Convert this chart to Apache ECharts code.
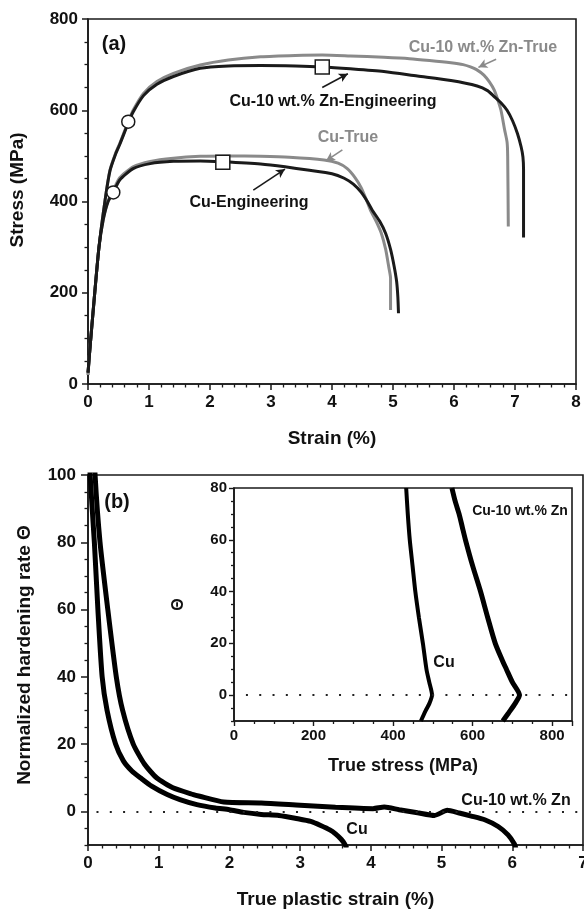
<!DOCTYPE html>
<html>
<head>
<meta charset="utf-8">
<script src="https://cdn.jsdelivr.net/npm/echarts@6/dist/echarts.min.js"></script>
<style>
html,body{margin:0;padding:0;background:#fff;}
#chart{width:584px;height:911px;}
</style>
</head>
<body>
<div id="chart"></div>
<script>
// ---------- Panel (a): stress-strain curves (strain %, stress MPa) ----------
const znTrue = [[0,20],[0.03,75],[0.1,184],[0.18,300],[0.28,403],[0.36,469],[0.45,505],[0.52,527],[0.66,575],[0.74,600],[0.91,637],[1.13,663],[1.4,681],[1.84,699],[2.3,710],[2.83,717],[3.4,720],[3.84,721],[4.3,719],[4.85,716],[5.27,713],[5.6,709],[5.95,704],[6.15,700],[6.27,695],[6.37,689],[6.49,677],[6.58,662],[6.66,644],[6.72,622],[6.77,600],[6.83,557],[6.87,530],[6.88,500],[6.89,345]];
const znEng = [[0,25],[0.03,75],[0.1,184],[0.18,300],[0.28,403],[0.36,467],[0.45,503],[0.52,525],[0.66,572],[0.74,596],[0.91,632],[1.13,657],[1.4,674],[1.84,692],[2.3,697],[2.83,698],[3.4,697],[3.84,695],[4.3,691],[4.85,685],[5.4,675],[5.95,665],[6.38,653],[6.55,643],[6.66,630],[6.78,615],[6.87,600],[6.96,577],[7.04,549],[7.1,520],[7.13,498],[7.14,470],[7.14,321]];
const cuTrue = [[0,20],[0.03,75],[0.1,184],[0.18,300],[0.25,362],[0.33,402],[0.415,425],[0.52,452],[0.74,476],[1.02,488],[1.4,495],[1.84,499],[2.3,500],[2.83,499],[3.3,497],[3.87,491],[4.1,484],[4.25,472],[4.38,452],[4.48,430],[4.56,405],[4.63,381],[4.73,355],[4.81,330],[4.88,295],[4.93,257],[4.96,232],[4.96,162]];
const cuEng = [[0,25],[0.03,75],[0.1,184],[0.18,300],[0.25,360],[0.33,400],[0.415,420],[0.52,447],[0.74,472],[1.02,483],[1.4,488],[1.84,489],[2.21,487],[2.83,482],[3.23,476],[3.6,469],[4.0,461],[4.2,451],[4.35,438],[4.48,420],[4.58,400],[4.66,381],[4.78,357],[4.88,330],[4.96,295],[5.02,257],[5.06,224],[5.08,190],[5.09,155]];
const circleMarks = [[0.66,575],[0.415,420]];
const squareMarks = [[3.84,695],[2.21,486]];
// arrows: [from, to] in data units
const arrowsGray = [[[6.69,712],[6.40,694]],[[4.17,513],[3.90,489]]];
const arrowsBlack = [[[3.84,650],[4.26,680]],[[2.71,425],[3.23,471]]];
const aXTicks = [0,1,2,3,4,5,6,7,8];
const aYTicks = [0,200,400,600,800];

// ---------- Panel (b): normalized hardening rate vs true plastic strain ----------
const bCu = [[0.02,110],[0.03,100],[0.09,80],[0.14,60],[0.2,40],[0.27,30],[0.39,20],[0.5,15],[0.62,12],[0.74,10],[0.9,7.5],[1.12,5],[1.3,3.5],[1.54,2],[1.8,1],[2.0,0.5],[2.2,-0.3],[2.45,-0.9],[2.7,-1.2],[2.97,-2.2],[3.15,-3],[3.29,-4.2],[3.42,-5.5],[3.5,-6.7],[3.58,-8.3],[3.63,-9.7],[3.66,-11]];
const bZn = [[0.09,110],[0.1,100],[0.17,80],[0.28,60],[0.4,40],[0.49,30],[0.64,20],[0.8,14],[0.97,10],[1.2,7],[1.49,5],[1.58,4.5],[1.92,2.8],[2.45,2.5],[3.0,1.8],[3.5,1.2],[4.03,0.8],[4.19,1.3],[4.4,0.5],[4.66,-0.4],[4.9,-1.2],[5.08,0.3],[5.25,-0.5],[5.42,-1.4],[5.61,-2.5],[5.8,-4.5],[5.94,-7],[6.03,-9.7],[6.05,-11]];
const bYMajor = [0,20,40,60,80,100];
const bYMinor = [-10,-5,5,10,15,25,30,35,45,50,55,65,70,75,85,90,95];

// ---------- Inset: Θ vs true stress ----------
const inCu = [[433,80],[437,70],[442,60],[449,50],[456,40],[465,30],[475,20],[484,10],[491,5],[498,0],[492,-3],[482,-6],[470,-10]];
const inZn = [[548,80],[556,75],[566,70],[574,65],[582,60],[600,50],[620,40],[638,30],[657,20],[676,13],[685,10],[700,5],[718,0],[708,-3],[690,-7],[676,-10]];
const inYMajor = [0,20,40,60,80];
const inYMinor = [-10,-5,5,10,15,25,30,35,45,50,55,65,70,75];
const zeroLineB = [[0.12,0],[7,0]];
const zeroLineIn = [[30,0],[850,0]];

const FONT = '"Liberation Sans", Arial, sans-serif';
const DARK = '#1a1a1a';
const GRAY = '#8a8a8a';

function axisBase(extra){
  return Object.assign({
    axisLine:{show:true, onZero:false, lineStyle:{color:DARK, width:1.6}},
    axisTick:{show:true, length:6, lineStyle:{color:DARK, width:1.5}},
    axisLabel:{color:'#111', fontFamily:FONT, fontWeight:'bold', fontSize:17},
    splitLine:{show:false},
    nameTextStyle:{color:'#111', fontFamily:FONT, fontWeight:'bold', fontSize:19}
  }, extra);
}
const minorT = (n,len)=>({show:true, splitNumber:n, length:len, lineStyle:{color:DARK, width:1.3}});

function lineSeries(data, x, y, color, width){
  return {type:'line', xAxisIndex:x, yAxisIndex:y, data:data, showSymbol:false, smooth:0.25,
    lineStyle:{color:color, width:width}, z:3, silent:true, animation:false};
}
function markLines(pairs, color, width, sym, type){
  return {silent:true, symbol:sym, symbolSize:[7,9], animation:false,
    label:{show:false}, lineStyle:{color:color, width:width, type:type||'solid'},
    data: pairs.map(p=>[{coord:p[0]},{coord:p[1]}])};
}

const chart = echarts.init(document.getElementById('chart'), null, {renderer:'canvas'});

const series = [];
const sZnTrue = lineSeries(znTrue,0,0,GRAY,3);
sZnTrue.markLine = markLines(arrowsGray, GRAY, 1.6, ['none','arrow']);
const sZnEng = lineSeries(znEng,0,0,DARK,3);
sZnEng.markLine = markLines(arrowsBlack, DARK, 1.6, ['none','arrow']);
const sCuTrue = lineSeries(cuTrue,0,0,GRAY,3);
sCuTrue.smooth = 0.2;
const sCuEng = lineSeries(cuEng,0,0,DARK,3);
sCuEng.smooth = 0.2;
series.push(sCuTrue, sZnTrue, sCuEng, sZnEng);
series.push({type:'scatter', xAxisIndex:0, yAxisIndex:0, data:circleMarks, symbol:'circle', symbolSize:13,
  itemStyle:{color:'#fff', borderColor:DARK, borderWidth:1.5, opacity:1}, z:5, silent:true, animation:false});
series.push({type:'scatter', xAxisIndex:0, yAxisIndex:0, data:squareMarks, symbol:'rect', symbolSize:14,
  itemStyle:{color:'#fff', borderColor:DARK, borderWidth:1.5, opacity:1}, z:5, silent:true, animation:false});

const sBCu = lineSeries(bCu,1,1,'#000',5);
sBCu.smooth = 0.2;
const sBZn = lineSeries(bZn,1,1,'#000',5);
sBZn.smooth = 0.2;
sBZn.markLine = markLines([zeroLineB], '#222', 2, 'none', [2,11.3]);
series.push(sBCu, sBZn);

const sInCu = lineSeries(inCu,2,3,'#000',4);
const sInZn = lineSeries(inZn,2,3,'#000',5);
sInZn.markLine = markLines([zeroLineIn], '#222', 2, 'none', [2,11.3]);
series.push(sInCu, sInZn);

const option = {
  backgroundColor:'#fff',
  animation:false,
  grid:[
    {left:88, right:8, top:19, bottom:527, show:true, borderColor:DARK, borderWidth:1.6, backgroundColor:'transparent', outerBoundsMode:'none', containLabel:false},
    {left:88, right:1, top:475, bottom:66, show:true, borderColor:DARK, borderWidth:1.6, backgroundColor:'transparent', outerBoundsMode:'none', containLabel:false},
    {left:234, right:12, top:488, bottom:190, show:true, borderColor:DARK, borderWidth:1.6, backgroundColor:'#fff', outerBoundsMode:'none', containLabel:false}
  ],
  xAxis:[
    axisBase({gridIndex:0, type:'value', min:aXTicks[0], max:aXTicks[aXTicks.length-1], interval:1,
      minorTick:minorT(5,3.5), name:'Strain (%)', nameLocation:'middle', nameGap:45,
      axisLabel:{color:'#111', fontFamily:FONT, fontWeight:'bold', fontSize:17, margin:10}}),
    axisBase({gridIndex:1, type:'value', min:0, max:7, interval:1,
      minorTick:minorT(5,3.5), name:'True plastic strain (%)', nameLocation:'middle', nameGap:45,
      axisLabel:{color:'#111', fontFamily:FONT, fontWeight:'bold', fontSize:17, margin:10}}),
    axisBase({gridIndex:2, type:'value', min:0, max:850, interval:200,
      minorTick:minorT(4,3), axisTick:{show:true, length:5, lineStyle:{color:DARK, width:1.4}},
      name:'True stress (MPa)', nameLocation:'middle', nameGap:36,
      nameTextStyle:{color:'#111', fontFamily:FONT, fontWeight:'bold', fontSize:18},
      axisLabel:{color:'#111', fontFamily:FONT, fontWeight:'bold', fontSize:15, margin:7}})
  ],
  yAxis:[
    axisBase({gridIndex:0, type:'value', min:aYTicks[0], max:aYTicks[aYTicks.length-1], interval:200,
      minorTick:minorT(4,3.5),
      axisLabel:{color:'#111', fontFamily:FONT, fontWeight:'bold', fontSize:17, margin:10}}),
    axisBase({gridIndex:1, type:'value', min:-10, max:100,
      axisTick:{show:true, length:7, customValues:bYMajor, lineStyle:{color:DARK, width:1.5}},
      axisLabel:{color:'#111', fontFamily:FONT, fontWeight:'bold', fontSize:17, margin:12, customValues:bYMajor}}),
    {gridIndex:1, type:'value', min:-10, max:100, position:'left',
      axisLine:{show:false}, splitLine:{show:false}, axisLabel:{show:false},
      axisTick:{show:true, length:3.5, customValues:bYMinor, lineStyle:{color:DARK, width:1.3}}},
    axisBase({gridIndex:2, type:'value', min:-10, max:80,
      axisTick:{show:true, length:5, customValues:inYMajor, lineStyle:{color:DARK, width:1.4}},
      axisLabel:{color:'#111', fontFamily:FONT, fontWeight:'bold', fontSize:15, margin:7, customValues:inYMajor},
      name:'Θ', nameLocation:'middle', nameGap:47,
      nameTextStyle:{color:'#111', fontFamily:FONT, fontWeight:'bold', fontSize:16}}),
    {gridIndex:2, type:'value', min:-10, max:80, position:'left',
      axisLine:{show:false}, splitLine:{show:false}, axisLabel:{show:false},
      axisTick:{show:true, length:3, customValues:inYMinor, lineStyle:{color:DARK, width:1.3}}}
  ],
  series: series,
  graphic:[
    {type:'text', x:18, y:190, rotation:Math.PI/2, z:10,
      style:{text:'Stress (MPa)', font:'bold 19px '+FONT, fill:'#111', textAlign:'center', textVerticalAlign:'middle'}},
    {type:'text', x:25, y:655, rotation:Math.PI/2, z:10,
      style:{text:'Normalized hardening rate Θ', font:'bold 19px '+FONT, fill:'#111', textAlign:'center', textVerticalAlign:'middle'}},
    {type:'text', x:114, y:44, z:10, style:{text:'(a)', font:'bold 20px '+FONT, fill:'#111', textAlign:'center', textVerticalAlign:'middle'}},
    {type:'text', x:117, y:502, z:10, style:{text:'(b)', font:'bold 20px '+FONT, fill:'#111', textAlign:'center', textVerticalAlign:'middle'}},
    {type:'text', x:483, y:48, z:10, style:{text:'Cu-10 wt.% Zn-True', font:'bold 16px '+FONT, fill:GRAY, textAlign:'center', textVerticalAlign:'middle'}},
    {type:'text', x:333, y:102, z:10, style:{text:'Cu-10 wt.% Zn-Engineering', font:'bold 16px '+FONT, fill:'#111', textAlign:'center', textVerticalAlign:'middle'}},
    {type:'text', x:348, y:138, z:10, style:{text:'Cu-True', font:'bold 16px '+FONT, fill:GRAY, textAlign:'center', textVerticalAlign:'middle'}},
    {type:'text', x:249, y:203, z:10, style:{text:'Cu-Engineering', font:'bold 16px '+FONT, fill:'#111', textAlign:'center', textVerticalAlign:'middle'}},
    {type:'text', x:520, y:511, z:10, style:{text:'Cu-10 wt.% Zn', font:'bold 14px '+FONT, fill:'#111', textAlign:'center', textVerticalAlign:'middle'}},
    {type:'text', x:444, y:663, z:10, style:{text:'Cu', font:'bold 16px '+FONT, fill:'#111', textAlign:'center', textVerticalAlign:'middle'}},
    {type:'text', x:516, y:801, z:10, style:{text:'Cu-10 wt.% Zn', font:'bold 16px '+FONT, fill:'#111', textAlign:'center', textVerticalAlign:'middle'}},
    {type:'text', x:357, y:830, z:10, style:{text:'Cu', font:'bold 16px '+FONT, fill:'#111', textAlign:'center', textVerticalAlign:'middle'}}
  ]
};
chart.setOption(option);
</script>
</body>
</html>
